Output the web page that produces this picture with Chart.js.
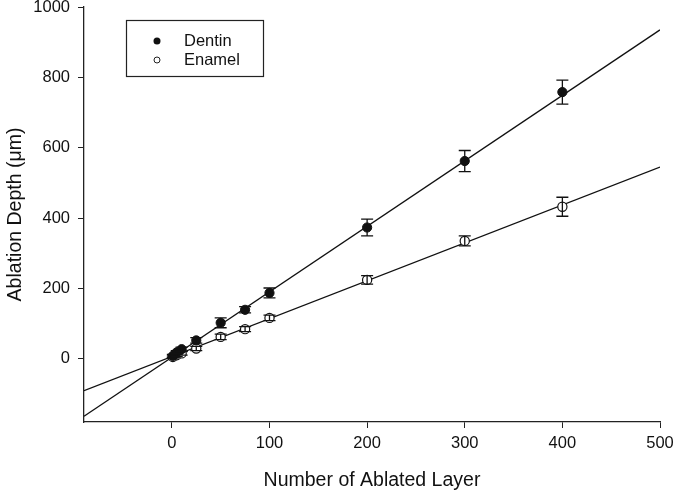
<!DOCTYPE html>
<html>
<head>
<meta charset="utf-8">
<script src="https://cdn.jsdelivr.net/npm/chart.js@4/dist/chart.umd.min.js"></script>
<style>
html,body{margin:0;padding:0;background:#fff;}
#wrap{width:675px;height:492px;position:relative;}
</style>
</head>
<body>
<div id="wrap"><canvas id="c" width="675" height="492"></canvas></div>
<script>
// ---- data ----
const layers = [1, 5, 10, 25, 50, 75, 100, 200, 300, 400];
const dentinDepth = [8, 18, 27, 52, 102, 139, 187, 373, 562, 758];
const dentinErr = [4, 5, 6, 8, 14, 9, 14, 24, 30, 34];
const enamelDepth = [5, 10, 15, 29, 62, 84, 116, 224, 335, 432];
const enamelErr = [3, 4, 5, 6, 8, 7, 8, 12, 14, 27];
const fitXRange = [-90, 500];
const dentinFit = { slope: 1.862, intercept: 4 };
const enamelFit = { slope: 1.078, intercept: 6 };
const xTicks = [0, 100, 200, 300, 400, 500];
const yTicks = [0, 200, 400, 600, 800, 1000];
const seriesNames = ["Dentin", "Enamel"];

const FONT = "'Liberation Sans', Arial, sans-serif";

const pts = (xs, ys) => xs.map((x, i) => ({ x: x, y: ys[i] }));
const fitLine = f => fitXRange.map(x => ({ x: x, y: f.slope * x + f.intercept }));

const errorBars = {
  id: 'errorBars',
  afterDatasetsDraw(chart) {
    const ctx = chart.ctx, xs = chart.scales.x, ys = chart.scales.y;
    ctx.save();
    ctx.strokeStyle = '#111';
    ctx.lineWidth = 1.3;
    const draw = (vals, errs) => {
      layers.forEach((lx, i) => {
        const px = xs.getPixelForValue(lx);
        const top = ys.getPixelForValue(vals[i] + errs[i]);
        const bot = ys.getPixelForValue(vals[i] - errs[i]);
        ctx.beginPath();
        ctx.moveTo(px, top); ctx.lineTo(px, bot);
        ctx.moveTo(px - 6, top); ctx.lineTo(px + 6, top);
        ctx.moveTo(px - 6, bot); ctx.lineTo(px + 6, bot);
        ctx.stroke();
      });
    };
    draw(dentinDepth, dentinErr);
    draw(enamelDepth, enamelErr);
    ctx.restore();
  }
};

const legendBox = {
  id: 'legendBox',
  afterDraw(chart) {
    const ctx = chart.ctx;
    ctx.save();
    ctx.strokeStyle = '#222';
    ctx.lineWidth = 1.2;
    ctx.strokeRect(126.5, 20.5, 137, 56);
    ctx.font = '16.5px ' + FONT;
    ctx.fillStyle = '#111';
    ctx.textBaseline = 'middle';
    ctx.textAlign = 'left';
    // Dentin
    ctx.beginPath(); ctx.arc(157, 41, 3.5, 0, Math.PI * 2);
    ctx.fillStyle = '#111'; ctx.fill();
    ctx.fillText(seriesNames[0], 184, 41);
    // Enamel
    ctx.beginPath(); ctx.arc(157, 60, 3, 0, Math.PI * 2);
    ctx.fillStyle = '#fff'; ctx.fill(); ctx.lineWidth = 1; ctx.stroke();
    ctx.fillStyle = '#111';
    ctx.fillText(seriesNames[1], 184, 60);
    ctx.restore();
  }
};

new Chart(document.getElementById('c'), {
  type: 'scatter',
  data: {
    datasets: [
      { type: 'line', data: fitLine(dentinFit), borderColor: '#111', borderWidth: 1.3, pointRadius: 0, fill: false, order: 3 },
      { type: 'line', data: fitLine(enamelFit), borderColor: '#111', borderWidth: 1.3, pointRadius: 0, fill: false, order: 3 },
      { label: seriesNames[0], data: pts(layers, dentinDepth), pointRadius: 4.6, pointBackgroundColor: '#111', pointBorderColor: '#111', pointBorderWidth: 1, order: 1 },
      { label: seriesNames[1], data: pts(layers, enamelDepth), pointRadius: 4.6, pointBackgroundColor: '#fff', pointBorderColor: '#111', pointBorderWidth: 1.2, order: 1 }
    ]
  },
  options: {
    responsive: false,
    animation: false,
    devicePixelRatio: 1,
    layout: { padding: { top: 7, right: 15, left: 0, bottom: 0 } },
    plugins: { legend: { display: false }, tooltip: { enabled: false } },
    scales: {
      x: {
        type: 'linear', min: -90, max: 500,
        afterBuildTicks: s => { s.ticks = xTicks.map(v => ({ value: v })); },
        afterFit: s => { s.height = 70; s.paddingLeft = 0; s.paddingRight = 0; },
        grid: { display: true, drawOnChartArea: false, drawTicks: true, tickLength: 6, color: '#222', tickColor: '#222' },
        border: { display: true, color: '#222', width: 1.3 },
        ticks: { color: '#111', font: { family: FONT, size: 16.5 }, padding: 6, maxRotation: 0, callback: v => String(v) },
        title: { display: true, text: 'Number of Ablated Layer', color: '#111', font: { family: FONT, size: 19.5 }, padding: { top: 8, bottom: 0 } }
      },
      y: {
        type: 'linear', min: -180, max: 1000,
        afterBuildTicks: s => { s.ticks = yTicks.map(v => ({ value: v })); },
        afterFit: s => { s.width = 84; s.paddingTop = 0; s.paddingBottom = 0; },
        grid: { display: true, drawOnChartArea: false, drawTicks: true, tickLength: 6, color: '#222', tickColor: '#222' },
        border: { display: true, color: '#222', width: 1.3 },
        ticks: { color: '#111', font: { family: FONT, size: 16.5 }, padding: 8, callback: v => String(v) },
        title: { display: true, text: 'Ablation Depth (μm)', color: '#111', font: { family: FONT, size: 19.5 }, padding: { top: 4, bottom: 0 } }
      }
    }
  },
  plugins: [errorBars, legendBox]
});
</script>
</body>
</html>
